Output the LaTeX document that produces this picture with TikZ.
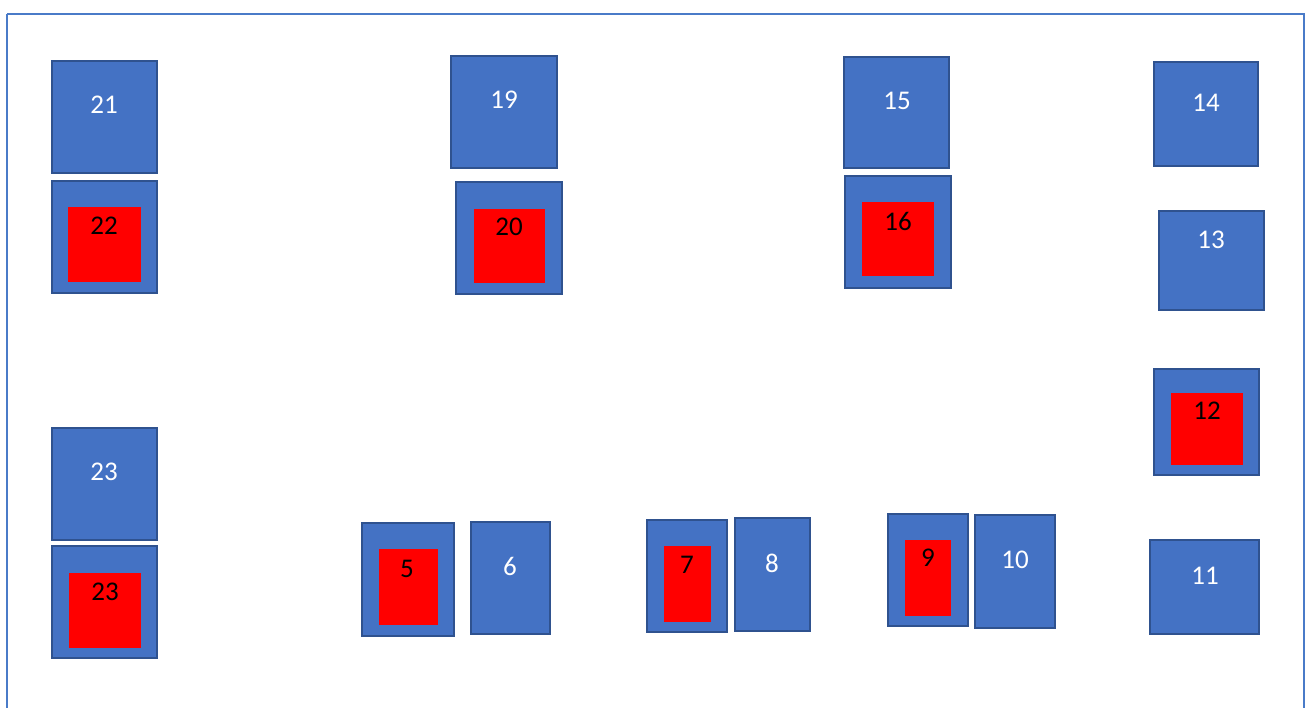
\documentclass[tikz,border=0pt]{standalone}
\usepackage{fontspec}
\setmainfont{Carlito}
\definecolor{boxblue}{HTML}{4472C4}
\definecolor{boxedge}{HTML}{2F528F}
\definecolor{framecol}{HTML}{4A7BC8}
\definecolor{redfill}{HTML}{FF0000}
\tikzset{
  bluebox/.style={fill=boxblue, draw=boxedge, line width=2pt},
  redbox/.style={fill=redfill, draw=none},
  wlbl/.style={text=white, font=\fontsize{27}{32}\selectfont, inner sep=0pt},
  blbl/.style={text=black, font=\fontsize{27}{32}\selectfont, inner sep=0pt},
  framestyle/.style={draw=framecol, line width=2.5pt}
}
\begin{document}
\begin{tikzpicture}[x=1pt,y=-1pt]
\useasboundingbox (0,0) rectangle (1306,707);
\path[framestyle] (7,14) -- (7,720) (7,14) -- (1304,14) -- (1304,720);
% top row
\path[bluebox] (52,61) rectangle (157,173);
\node[wlbl] (n21) at (104,105) {21};
\path[bluebox] (52,181) rectangle (157,293);
\path[redbox] (68,207) rectangle (141,282);
\node[blbl] (n22) at (104,226) {22};
\path[bluebox] (451,56) rectangle (557,168);
\node[wlbl] (n19) at (504,100) {19};
\path[bluebox] (456,182) rectangle (562,294);
\path[redbox] (474,209) rectangle (545,283);
\node[blbl] (n20) at (509,227) {20};
\path[bluebox] (844,57) rectangle (949,168);
\node[wlbl] (n15) at (897,101) {15};
\path[bluebox] (845,176) rectangle (951,288);
\path[redbox] (862,202) rectangle (934,276);
\node[blbl] (n16) at (898,221) {16};
% right column
\path[bluebox] (1154,62) rectangle (1258,166);
\node[wlbl] (n14) at (1206,103) {14};
\path[bluebox] (1159,211) rectangle (1264,310);
\node[wlbl] (n13) at (1211,240) {13};
\path[bluebox] (1154,369) rectangle (1259,475);
\path[redbox] (1171,393) rectangle (1243,465);
\node[blbl] (n12) at (1207,411) {12};
\path[bluebox] (1150,540) rectangle (1259,634);
\node[wlbl] (n11) at (1205,576) {11};
% left bottom
\path[bluebox] (52,428) rectangle (157,540);
\node[wlbl] (n23a) at (104,472) {23};
\path[bluebox] (52,546) rectangle (157,658);
\path[redbox] (69,573) rectangle (141,648);
\node[blbl] (n23b) at (105,592) {23};
% bottom row
\path[bluebox] (362,523) rectangle (454,636);
\path[redbox] (379,549) rectangle (438,625);
\node[blbl] (n5) at (407,569) {5};
\path[bluebox] (471,522) rectangle (550,634);
\node[wlbl] (n6) at (510,566) {6};
\path[bluebox] (647,520) rectangle (727,632);
\path[redbox] (664,546) rectangle (711,622);
\node[blbl] (n7) at (687,565) {7};
\path[bluebox] (735,518) rectangle (810,631);
\node[wlbl] (n8) at (772,563) {8};
\path[bluebox] (888,514) rectangle (968,626);
\path[redbox] (905,540) rectangle (951,616);
\node[blbl] (n9) at (928,558) {9};
\path[bluebox] (975,515) rectangle (1055,628);
\node[wlbl] (n10) at (1015,560) {10};
\end{tikzpicture}
\end{document}
